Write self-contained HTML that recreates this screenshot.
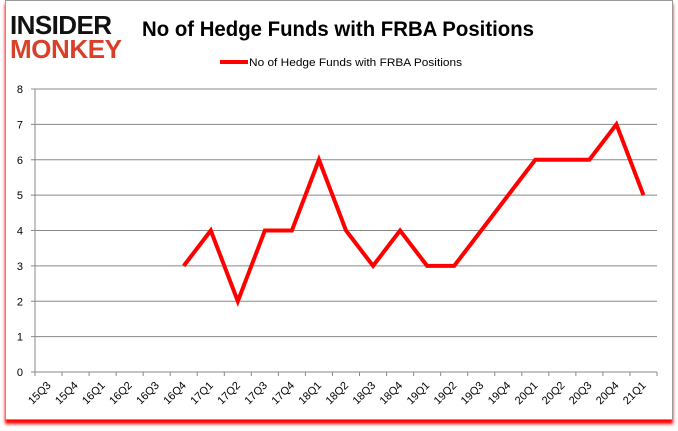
<!DOCTYPE html>
<html><head><meta charset="utf-8"><style>
body{margin:0;background:#fff;font-family:"Liberation Sans",sans-serif;}
#frame{position:absolute;left:5px;top:0;width:666px;height:418px;border:1px solid #999;box-shadow:0 4px 3px #f00;background:#fff;}
</style></head><body>
<div id="frame"></div>
<svg id="c" width="678" height="431" style="position:absolute;left:0;top:0">
<text x="10" y="34" font-size="26" font-weight="bold" fill="#111" font-family="Liberation Sans" textLength="102">INSIDER</text>
<text x="10" y="58" font-size="26" font-weight="bold" fill="#d9402a" font-family="Liberation Sans" textLength="112">MONKEY</text>
<text x="142" y="36" font-size="21" font-weight="bold" fill="#000" textLength="392" lengthAdjust="spacingAndGlyphs">No of Hedge Funds with FRBA Positions</text>
<line x1="220" y1="62" x2="248" y2="62" stroke="#f00" stroke-width="4"/>
<text x="249" y="66" font-size="11" fill="#000" textLength="213" lengthAdjust="spacingAndGlyphs">No of Hedge Funds with FRBA Positions</text>
<g id="g"></g>
</svg>
<script>
const categories=["15Q3","15Q4","16Q1","16Q2","16Q3","16Q4","17Q1","17Q2","17Q3","17Q4","18Q1","18Q2","18Q3","18Q4","19Q1","19Q2","19Q3","19Q4","20Q1","20Q2","20Q3","20Q4","21Q1"];
const values=[null,null,null,null,null,3,4,2,4,4,6,4,3,4,3,3,4,5,6,6,6,7,5];
const yTicks=[0,1,2,3,4,5,6,7,8];
const L=35,R=657,T=89,B=372,NS="http://www.w3.org/2000/svg";
const cw=(R-L)/categories.length;
const xs=i=>L+(i+0.5)*cw, ys=v=>B-(v/8)*(B-T);
const g=document.getElementById('g');
function mk(t,a){const e=document.createElementNS(NS,t);for(const k in a)e.setAttribute(k,a[k]);g.appendChild(e);return e;}
yTicks.forEach(v=>{
 const l=mk('line',{x1:L-4,x2:R,y1:ys(v),y2:ys(v),stroke:'#888','stroke-width':1});
 
 
 const t=mk('text',{x:L-12,y:ys(v)+4,'font-size':11,'text-anchor':'end',fill:'#000'});t.textContent=v;
 
 
});
const ax=mk('line',{x1:L,x2:L,y1:T,y2:B,stroke:'#888'});


categories.forEach((c,i)=>{
 const tk=mk('line',{x1:L+i*cw,x2:L+i*cw,y1:B,y2:B+4,stroke:'#888'});
 
 
 const x=xs(i)+3,y=B+14;
 const t=mk('text',{x:x,y:y,'font-size':11,'text-anchor':'end',fill:'#000',transform:`rotate(-45 ${x} ${y})`});t.textContent=c;
 
 
});
const tk=mk('line',{x1:R,x2:R,y1:B,y2:B+4,stroke:'#888'});


let d='';values.forEach((v,i)=>{if(v!==null)d+=(d?'L':'M')+xs(i)+','+ys(v);});
const p=mk('path',{d:d,fill:'none',stroke:'#f00','stroke-width':4,'stroke-linejoin':'miter'});


</script>
</body></html>
